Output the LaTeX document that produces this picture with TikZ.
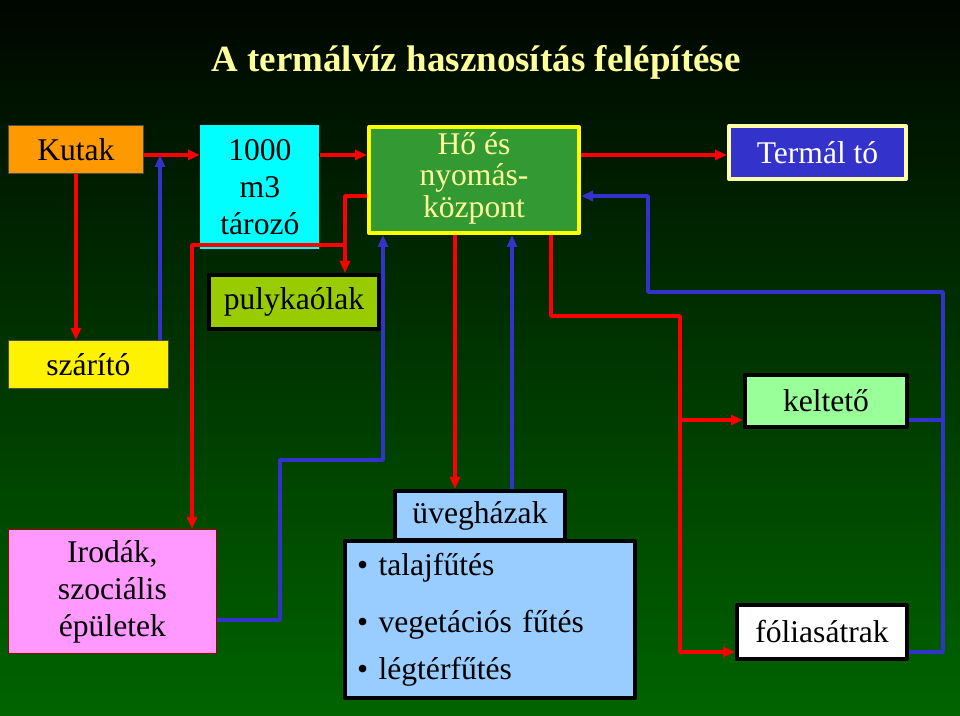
\documentclass[tikz,border=0pt]{standalone}
\usepackage{fontspec}
\setmainfont{Liberation Serif}
\usepackage{xcolor}
\usetikzlibrary{arrows.meta}
\definecolor{hatterfent}{RGB}{0,6,0}
\definecolor{hatterlent}{RGB}{0,100,0}
\definecolor{halvany}{RGB}{255,255,153}
\definecolor{narancs}{RGB}{255,153,0}
\definecolor{cian}{RGB}{0,255,255}
\definecolor{kozpzold}{RGB}{51,153,51}
\definecolor{sarga}{RGB}{255,255,0}
\definecolor{termkek}{RGB}{51,51,204}
\definecolor{termkeret}{RGB}{255,255,170}
\definecolor{pulyzold}{RGB}{153,204,0}
\definecolor{keltzold}{RGB}{153,255,153}
\definecolor{rozsa}{RGB}{255,153,255}
\definecolor{vilagkek}{RGB}{153,204,255}
\definecolor{piros}{RGB}{255,0,0}
\definecolor{kek}{RGB}{51,51,204}

\begin{document}
\begin{tikzpicture}[x=0.5pt, y=-0.5pt, line join=round,
  box/.style={draw, anchor=north west, inner sep=0pt, align=center, font=\fontsize{15.8}{18.5}\selectfont},
  vastag/.style={line width=2pt},
  hot/.style={draw=piros, line width=1.8pt, -{Triangle[length=6pt,width=5pt]}},
  coldline/.style={draw=kek, line width=1.8pt},
  cold/.style={coldline, -{Triangle[length=6pt,width=5pt]}}]
\fill[top color=hatterfent, bottom color=hatterlent] (0,0) rectangle (960,716);
\useasboundingbox (0,0) rectangle (960,716);

\node[font=\fontsize{18.5}{22}\selectfont\bfseries, text=halvany] (cim) at (476,62) {A termálvíz hasznosítás felépítése};

% dobozok
\node[box, fill=narancs, draw=black!70, minimum width=67.5pt, minimum height=24pt] (kutak) at (8,125) {Kutak};
\node[box, fill=cian, draw=none, minimum width=59.5pt, minimum height=62pt] (taroz) at (200,125) {1000\\m3\\tározó};
\node[box, fill=kozpzold, draw=sarga, vastag, text=halvany, minimum width=105pt, minimum height=53pt, font=\fontsize{15.8}{15.8}\selectfont, text depth=5pt] (kozp) at (367,125) {Hő és\\nyomás-\\központ};
\node[box, fill=termkek, draw=termkeret, vastag, text=white, minimum width=88.5pt, minimum height=26.5pt] (termal) at (727,124) {Termál tó};
\node[box, fill=pulyzold, vastag, minimum width=85pt, minimum height=27pt] (puly) at (207,273) {pulykaólak};
\node[box, fill=yellow, draw=black!70, minimum width=80pt, minimum height=24pt] (szar) at (8,340) {szárító};
\node[box, fill=keltzold, vastag, minimum width=81pt, minimum height=26pt] (kelt) at (743,373) {keltető};
\node[box, fill=rozsa, draw=piros!60!black, minimum width=104pt, minimum height=62pt] (irod) at (8,529) {Irodák,\\szociális\\épületek};
\node[box, fill=vilagkek, vastag, minimum width=85pt, minimum height=24.5pt] (uveg) at (393,489) {üvegházak};
\node[box, fill=vilagkek, vastag, align=left, text width=133pt, inner xsep=6pt, minimum height=78.5pt] (lista) at (343,539) {\textbullet\ talajfűtés\\[10pt]\textbullet\ vegetációs fűtés\\[5pt]\textbullet\ légtérfűtés};
\node[box, fill=white, vastag, minimum width=85pt, minimum height=27pt] (folia) at (735,603) {fóliasátrak};

% torespontok
\coordinate (sor) at (0,155);
\coordinate (b1) at (160,155);
\coordinate (l1) at (345,196);
\coordinate (l3) at (192,245);
\coordinate (l4) at (455,0);
\coordinate (b2) at (512,0);
\coordinate (l5) at (551,316);
\coordinate (l6) at (680,316);
\coordinate (l7) at (680,652);
\coordinate (l8) at (680,420);
\coordinate (b3) at (943,420);
\coordinate (b4) at (943,652);
\coordinate (b6) at (648,292);
\coordinate (b7) at (648,196);
\coordinate (b8) at (383,316);
\coordinate (b9) at (383,460);
\coordinate (b10) at (280,460);
\coordinate (b11) at (280,620);

% meleg agak
\draw[hot] (kutak.east |- sor) -- (taroz.west |- sor);
\draw[hot] (taroz.east |- sor) -- (kozp.west |- sor);
\draw[hot] (kozp.east |- sor) -- (termal.west |- sor);
\draw[hot] (kutak.south) -- (kutak.south |- szar.north);
\draw[hot] (kozp.west |- l1) -- (l1) -- (l1 |- puly.north);
\draw[hot] (l1 |- l3) -- (l3) -- (l3 |- irod.north);
\draw[hot] (kozp.south -| l4) -- (uveg.north -| l4);
\draw[hot] (kozp.south -| l5) |- (l6) -- (l7) -- (folia.west |- l7);
\draw[hot] (l8) -- (kelt.west |- l8);

% visszatero agak
\draw[cold] (b1 |- szar.north) -- (b1);
\draw[cold] (uveg.north -| b2) -- (kozp.south -| b2);
\draw[coldline] (kelt.east |- b3) -- (b3);
\draw[cold] (folia.east |- b4) -- (b4) |- (b6) -- (b7) -- (kozp.east |- b7);
\draw[coldline] (puly.east |- b8) -- (b8);
\draw[cold] (irod.east |- b11) -- (b11) -- (b10) -- (b9) -- (kozp.south -| b9);
\end{tikzpicture}
\end{document}
